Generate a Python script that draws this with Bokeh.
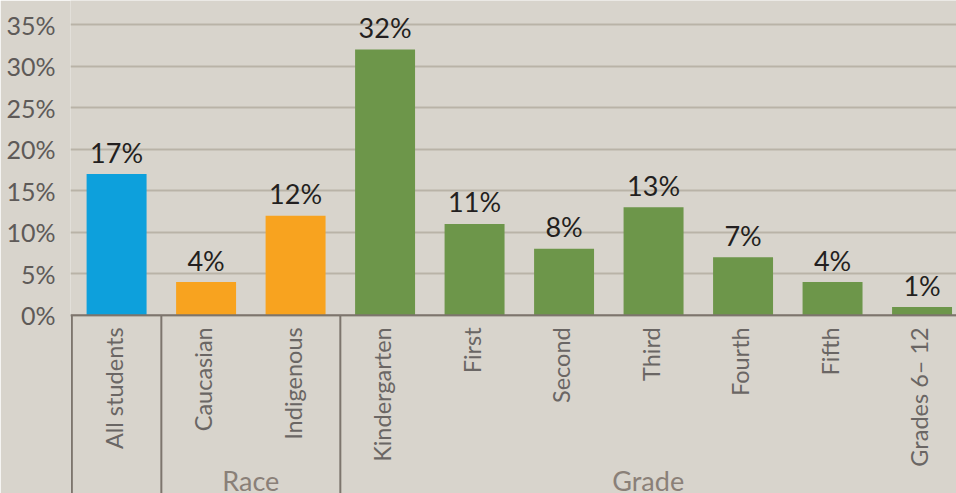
import math
from bokeh.plotting import figure
from bokeh.models import ColumnDataSource, Range1d, FixedTicker, Span
from bokeh.core.properties import value
from bokeh.embed import file_html
from bokeh.resources import INLINE

# ---- data ----
categories = ["All students", "Caucasian", "Indigenous", "Kindergarten", "First",
              "Second", "Third", "Fourth", "Fifth", "Grades 6\u2013 12"]
rates = [17, 4, 12, 32, 11, 8, 13, 7, 4, 1]
groups = ["", "Race", "Race", "Grade", "Grade", "Grade", "Grade", "Grade", "Grade", "Grade"]
group_names = ["Race", "Grade"]
y_ticks = [0, 5, 10, 15, 20, 25, 30, 35]
y_tick_labels = ["0%", "5%", "10%", "15%", "20%", "25%", "30%", "35%"]

BG = "#D8D4CC"
color_map = {"": "#0DA0DC", "Race": "#F8A31F", "Grade": "#6D964A"}
FONT = "Lato"

xs = list(range(len(categories)))
src = ColumnDataSource(dict(
    x=xs, rate=rates, cat=categories,
    label=[f"{v}%" for v in rates],
    color=[color_map[g] for g in groups],
))

p = figure(width=956, height=493, output_backend="svg", toolbar_location=None,
           x_range=Range1d(-0.515, 9.385), y_range=Range1d(-21.45, 37.9),
           min_border_left=70, min_border_right=0, min_border_top=0, min_border_bottom=0)
p.background_fill_color = BG
p.border_fill_color = BG
p.outline_line_color = None

# axes
p.xaxis.visible = False
yax = p.yaxis[0]
yax.ticker = FixedTicker(ticks=y_ticks)
yax.major_label_overrides = {t: l for t, l in zip(y_ticks, y_tick_labels)}
yax.axis_line_color = None
yax.major_tick_line_color = None
yax.major_tick_out = 0
yax.major_tick_in = 0
yax.minor_tick_line_color = None
yax.minor_tick_out = 0
yax.major_label_standoff = 15
yax.major_label_text_font = FONT
yax.major_label_text_font_size = "25px"
yax.major_label_text_color = "#5E5A58"
p.xgrid.visible = False
p.ygrid.ticker = FixedTicker(ticks=y_ticks)
p.ygrid.grid_line_color = "#B9B3A7"
p.ygrid.grid_line_width = 2

# bars
p.vbar(x="x", top="rate", bottom=0, width=0.67, source=src,
       fill_color="color", line_color=None)

# baseline
p.add_layout(Span(location=0, dimension="width", line_color="#7D756D", line_width=2))

# group separators
seps = [-0.5, 0.5, 2.5]
p.segment(x0=seps, y0=[0] * 3, x1=seps, y1=[-22] * 3, line_color="#7D756D", line_width=2)

# value labels
p.text(x="x", y="rate", text="label", source=src, text_align="center",
       text_baseline="alphabetic", y_offset=-22, text_font=value(FONT),
       text_font_size="27px", text_color="#231F20", text_font_style="normal")

# category labels (vertical)
p.text(x="x", y=0, text="cat", source=src, angle=math.pi / 2,
       text_align="right", text_baseline="middle", y_offset=12, x_offset=-3,
       text_font=value(FONT), text_font_size="23.5px", text_color="#6A6664")

# group labels
gx = [1.5, 5.94]
p.text(x=gx, y=[-19.9, -19.9], text=group_names, text_align="center",
       text_baseline="alphabetic", text_font=value(FONT), text_font_size="27px",
       text_color="#8A8078")

open("out.html", "w").write(file_html(p, INLINE))
